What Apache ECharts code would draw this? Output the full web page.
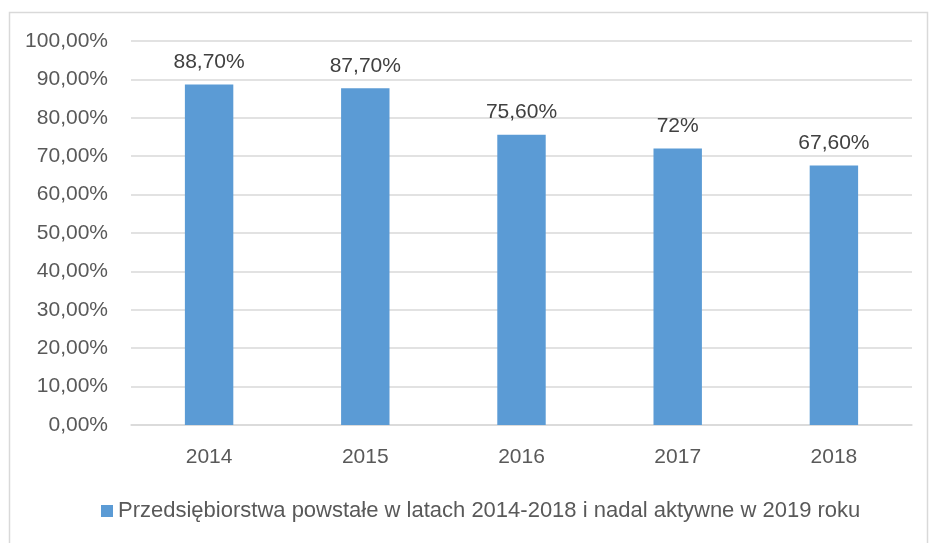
<!DOCTYPE html>
<html>
<head>
<meta charset="utf-8">
<script src="https://cdn.jsdelivr.net/npm/echarts@6/dist/echarts.min.js"></script>
<style>
html,body{margin:0;padding:0;background:#fff;}
#chart{width:932px;height:543px;}
</style>
</head>
<body>
<div id="chart"></div>
<script>
const categories = ['2014', '2015', '2016', '2017', '2018'];
const values = [88.7, 87.7, 75.6, 72, 67.6];
const dataLabels = ['88,70%', '87,70%', '75,60%', '72%', '67,60%'];
const seriesName = 'Przedsiębiorstwa powstałe w latach 2014-2018 i nadal aktywne w 2019 roku';

const FONT = 'Liberation Sans';
const chart = echarts.init(document.getElementById('chart'), null, {renderer: 'canvas'});
chart.setOption({
  backgroundColor: '#ffffff',
  animation: false,
  graphic: [{
    type: 'rect',
    left: 7, top: 10,
    shape: {width: 918, height: 600},
    style: {fill: 'none', stroke: '#d9d9d9', lineWidth: 1.5},
    silent: true
  }],
  grid: {left: 131, right: 20, top: 41, bottom: 118, containLabel: false},
  legend: {
    data: [seriesName],
    bottom: 16,
    left: 96,
    icon: 'rect',
    itemWidth: 12,
    itemHeight: 12,
    itemGap: 6,
    textStyle: {fontFamily: FONT, fontSize: 22, color: '#595959'}
  },
  xAxis: {
    type: 'category',
    data: categories,
    axisLine: {show: true, lineStyle: {color: '#d9d9d9', width: 1.5}},
    axisTick: {show: false},
    axisLabel: {fontFamily: FONT, fontSize: 21, color: '#595959', margin: 22}
  },
  yAxis: {
    type: 'value',
    min: 0, max: 100, interval: 10,
    axisLine: {show: false},
    axisTick: {show: false},
    splitLine: {lineStyle: {color: '#d9d9d9', width: 1.5}},
    axisLabel: {
      fontFamily: FONT, fontSize: 21, color: '#595959', margin: 23,
      formatter: v => v.toFixed(2).replace('.', ',') + '%'
    }
  },
  series: [{
    name: seriesName,
    type: 'bar',
    data: values,
    barWidth: '31%',
    itemStyle: {color: '#5b9bd5'},
    label: {
      show: true,
      position: 'top',
      distance: 12,
      fontFamily: FONT, fontSize: 21, color: '#404040',
      formatter: p => dataLabels[p.dataIndex]
    }
  }]
});
</script>
</body>
</html>
